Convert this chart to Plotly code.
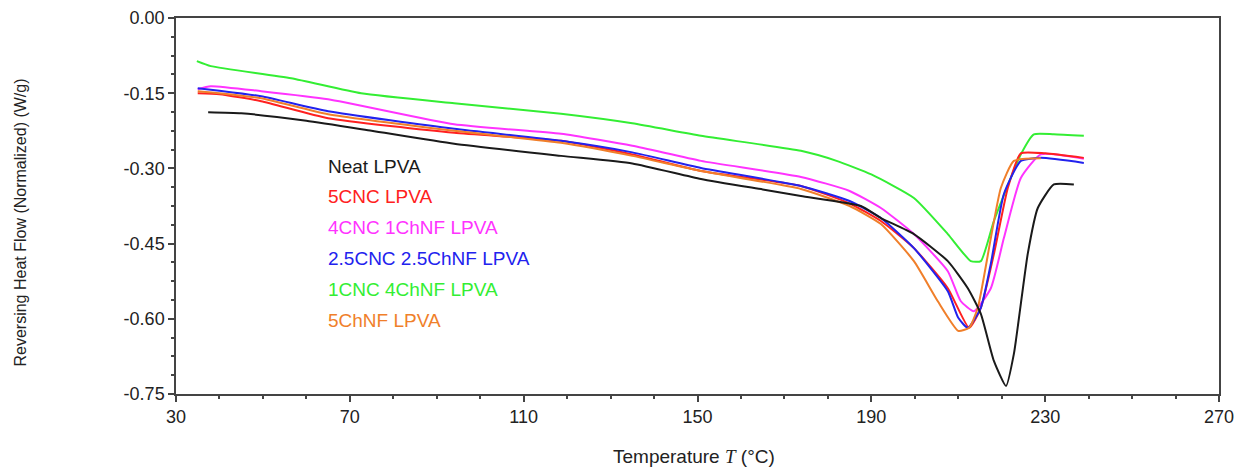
import plotly.graph_objects as go

# Neat LPVA
t_neat = [37.4, 45, 60, 75, 94, 118.6, 135, 150.8, 165, 173.8, 187.6, 192.2, 199.8, 207.6, 212.2, 215.2, 218.2, 221, 222.8, 226, 228.3, 232, 236.6]
y_neat = [-0.188, -0.19, -0.205, -0.225, -0.251, -0.275, -0.29, -0.321, -0.342, -0.355, -0.375, -0.399, -0.431, -0.485, -0.539, -0.59, -0.684, -0.734, -0.67, -0.47, -0.379, -0.332, -0.332]

# 5CNC LPVA
t_5cnc = [35, 40, 49.6, 65, 94, 118.6, 135, 150.8, 173.8, 185, 192.2, 199.8, 207.6, 212.5, 215.2, 218.2, 221.4, 224.4, 230, 238.9]
y_5cnc = [-0.15, -0.152, -0.166, -0.2, -0.229, -0.245, -0.272, -0.305, -0.335, -0.37, -0.405, -0.459, -0.539, -0.618, -0.578, -0.471, -0.339, -0.27, -0.27, -0.279]

# 4CNC 1ChNF LPVA
t_4cnc = [35, 38, 49.6, 65, 94, 118.6, 135, 150.8, 173.8, 185, 192.2, 199.8, 207.6, 210.6, 213.6, 217.5, 220.5, 224.4, 229, 238.9]
y_4cnc = [-0.142, -0.136, -0.146, -0.162, -0.212, -0.231, -0.255, -0.285, -0.317, -0.345, -0.379, -0.431, -0.505, -0.565, -0.585, -0.539, -0.439, -0.319, -0.272, -0.281]

# 2.5CNC 2.5ChNF LPVA
t_25 = [35, 40, 49.6, 65, 94, 118.6, 135, 150.8, 173.8, 185, 192.2, 199.8, 207.6, 210, 212.2, 215.2, 217.5, 220.5, 224.4, 229, 238.9]
y_25 = [-0.14, -0.145, -0.156, -0.186, -0.221, -0.245, -0.268, -0.299, -0.335, -0.365, -0.399, -0.459, -0.545, -0.598, -0.618, -0.578, -0.49, -0.351, -0.285, -0.279, -0.289]

# 1CNC 4ChNF LPVA
t_1cnc = [34.8, 38, 56.5, 72.6, 94, 118.6, 135, 150.8, 173.8, 182, 190, 199.8, 207.6, 212.9, 215.2, 218.2, 224.4, 227.4, 232, 238.9]
y_1cnc = [-0.086, -0.096, -0.12, -0.15, -0.17, -0.191, -0.21, -0.235, -0.265, -0.285, -0.312, -0.359, -0.431, -0.485, -0.485, -0.405, -0.272, -0.232, -0.232, -0.235]

# 5ChNF LPVA
t_5chnf = [35, 40, 49.6, 65, 94, 118.6, 135, 150.8, 173.8, 185, 192.2, 199.8, 205.3, 210, 212.5, 214.5, 217.5, 219.8, 222.8, 229]
y_5chnf = [-0.146, -0.15, -0.16, -0.192, -0.225, -0.249, -0.275, -0.305, -0.341, -0.375, -0.411, -0.485, -0.565, -0.624, -0.618, -0.578, -0.439, -0.339, -0.285, -0.28]

names = ["Neat LPVA", "5CNC LPVA", "4CNC 1ChNF LPVA", "2.5CNC 2.5ChNF LPVA", "1CNC 4ChNF LPVA", "5ChNF LPVA"]
colors = ["#1a1a1a", "#ff2020", "#ff33ff", "#2222ee", "#33ee33", "#f07f2a"]
series = [(t_neat, y_neat), (t_5cnc, y_5cnc), (t_4cnc, y_4cnc), (t_25, y_25), (t_1cnc, y_1cnc), (t_5chnf, y_5chnf)]

x_ticks = [30, 70, 110, 150, 190, 230, 270]
x_labels = ["30", "70", "110", "150", "190", "230", "270"]
y_ticks = [0, -0.15, -0.30, -0.45, -0.60, -0.75]
y_labels = ["0.00", "-0.15", "-0.30", "-0.45", "-0.60", "-0.75"]

FONT = "Liberation Sans, Arial, sans-serif"

fig = go.Figure()
draw_order = [4, 2, 1, 3, 5, 0]
for i in draw_order:
    t, y = series[i]
    fig.add_trace(go.Scatter(x=t, y=y, mode="lines", name=names[i],
                             line=dict(color=colors[i], width=2, shape="spline", smoothing=0.5),
                             showlegend=False))

# legend text
for k, (n, c) in enumerate(zip(names, colors)):
    fig.add_annotation(x=0.1438, y=0.606 - k * 0.082, xref="paper", yref="paper",
                       text=n, showarrow=False, xanchor="left", yanchor="middle",
                       font=dict(size=19, color=c, family=FONT))

# axis titles
fig.add_annotation(x=0.497, y=-0.165, xref="paper", yref="paper",
                   text='Temperature <span style="font-family:Liberation Serif, serif"><i>T</i></span> (°C)',
                   showarrow=False, xanchor="center", yanchor="middle",
                   font=dict(size=19, color="#222", family=FONT))
fig.add_annotation(x=-0.1486, y=0.456, xref="paper", yref="paper",
                   text="Reversing Heat Flow (Normalized) (W/g)", textangle=-90,
                   showarrow=False, xanchor="center", yanchor="middle",
                   font=dict(size=16, color="#222", family=FONT))

# page body has a small margin; compensate so the plot lands where the reference has it
fig.update_layout(
    width=1246, height=466,
    margin=dict(l=168, r=35, t=10, b=80),
    paper_bgcolor="white", plot_bgcolor="white",
    font=dict(family=FONT, color="#222"),
)
fig.update_xaxes(
    range=[30, 270], tickvals=x_ticks, ticktext=x_labels, automargin=False,
    ticklabeloverflow="allow",
    showline=True, linecolor="#444", linewidth=1.5, mirror=True,
    ticks="outside", ticklen=6, tickcolor="#444", tickwidth=1.5,
    minor=dict(dtick=10, tick0=30, ticks="outside", ticklen=3, tickcolor="#444"),
    showgrid=False, zeroline=False,
    tickfont=dict(size=18, family=FONT, color="#222"),
)
fig.update_yaxes(
    range=[-0.75, 0.0], tickvals=y_ticks, ticktext=y_labels, automargin=False,
    ticklabeloverflow="allow",
    showline=True, linecolor="#444", linewidth=1.5, mirror=True,
    ticks="outside", ticklen=6, tickcolor="#444", tickwidth=1.5,
    minor=dict(dtick=0.0375, tick0=0, ticks="outside", ticklen=3, tickcolor="#444"),
    showgrid=False, zeroline=False,
    tickfont=dict(size=18, family=FONT, color="#222"),
)

fig.write_html("out.html")
